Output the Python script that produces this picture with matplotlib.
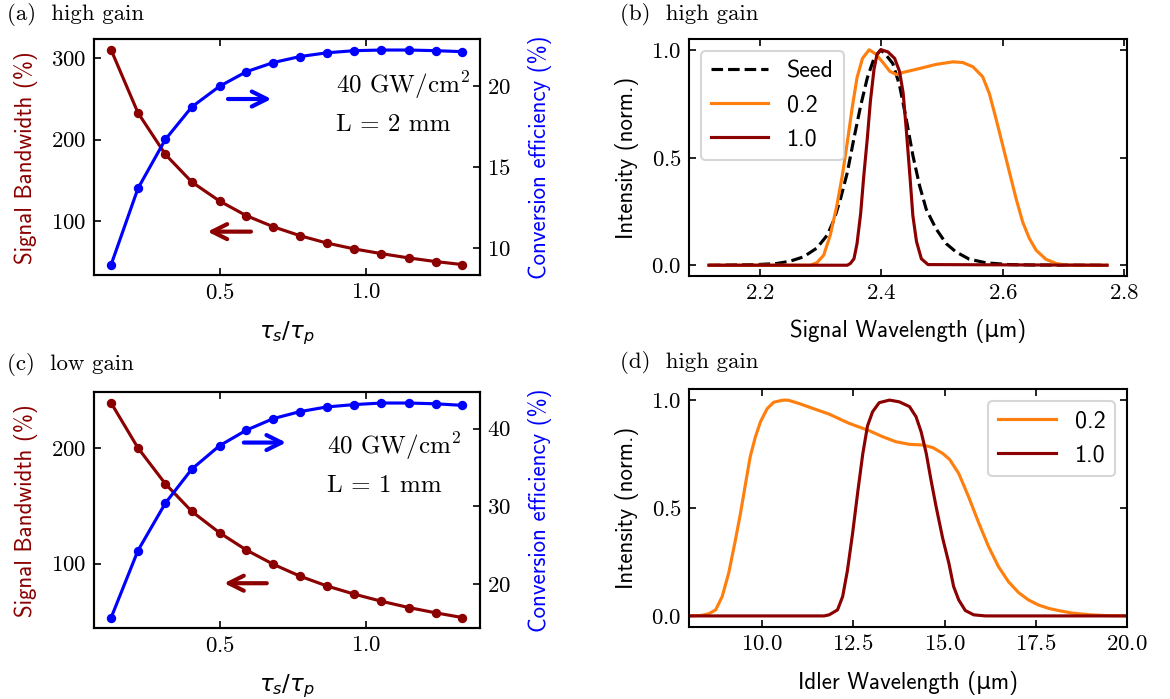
import matplotlib
matplotlib.use("Agg")
import matplotlib.pyplot as plt
from matplotlib.ticker import MultipleLocator

plt.rcParams['font.family'] = 'serif'
plt.rcParams['font.serif'] = ['cmr10']
plt.rcParams['mathtext.fontset'] = 'cm'
plt.rcParams['axes.formatter.use_mathtext'] = True
plt.rcParams['axes.unicode_minus'] = False
plt.rcParams['font.size'] = 11
plt.rcParams['axes.linewidth'] = 1.0

SANS = ['cmss10', 'DejaVu Sans']
RED = '#8b0000'
BLUE = '#0000ff'
ORANGE = '#ff7f0e'

# ---- data: panels (a) and (c), pulse duration ratio ----
ratio = [0.125, 0.217, 0.311, 0.402, 0.497, 0.589, 0.682, 0.774, 0.866, 0.960, 1.053, 1.146, 1.239, 1.331]
bw_high = [310.2, 233.1, 182.0, 148.0, 124.7, 106.7, 93.0, 82.0, 73.0, 65.8, 60.0, 54.8, 50.3, 46.6]
eff_high = [9.0, 13.7, 16.72, 18.73, 20.0, 20.9, 21.47, 21.84, 22.07, 22.2, 22.24, 22.24, 22.2, 22.14]
bw_low = [238.8, 200.0, 169.0, 145.1, 126.7, 111.8, 99.4, 89.1, 80.7, 73.6, 67.5, 62.1, 57.5, 53.4]
eff_low = [15.67, 24.3, 30.4, 34.8, 37.8, 39.8, 41.3, 42.2, 42.8, 43.1, 43.3, 43.3, 43.2, 43.0]

# ---- data: panel (b), signal spectra ----
wl_seed = [2.116, 2.195, 2.228, 2.250, 2.272, 2.294, 2.311, 2.322, 2.333, 2.344, 2.355, 2.366,
           2.377, 2.388, 2.399, 2.408, 2.419, 2.430, 2.441, 2.452, 2.463, 2.474, 2.490, 2.507,
           2.523, 2.545, 2.573, 2.611, 2.650, 2.772]
i_seed = [0, 0.003, 0.008, 0.019, 0.039, 0.08, 0.14, 0.21, 0.31, 0.43, 0.59, 0.74,
          0.87, 0.96, 1.0, 0.975, 0.936, 0.836, 0.68, 0.51, 0.37, 0.26, 0.17, 0.10,
          0.062, 0.028, 0.011, 0.003, 0.001, 0]
wl_sig02 = [2.116, 2.283, 2.294, 2.305, 2.316, 2.327, 2.336, 2.344, 2.352, 2.360, 2.369, 2.380,
            2.391, 2.403, 2.414, 2.425, 2.436, 2.463, 2.490, 2.518, 2.534, 2.551, 2.567, 2.578,
            2.589, 2.600, 2.611, 2.622, 2.633, 2.644, 2.655, 2.671, 2.688, 2.705, 2.772]
i_sig02 = [0, 0, 0.012, 0.046, 0.14, 0.28, 0.42, 0.57, 0.73, 0.87, 0.96, 1.0,
           0.98, 0.94, 0.90, 0.885, 0.895, 0.913, 0.932, 0.944, 0.941, 0.921, 0.875, 0.797,
           0.68, 0.557, 0.433, 0.31, 0.20, 0.124, 0.07, 0.028, 0.008, 0.0, 0]
wl_sig10 = [2.116, 2.344, 2.349, 2.355, 2.360, 2.366, 2.371, 2.377, 2.382, 2.388, 2.393, 2.400,
            2.411, 2.422, 2.430, 2.436, 2.441, 2.447, 2.452, 2.458, 2.466, 2.477, 2.772]
i_sig10 = [0, 0, 0.008, 0.03, 0.10, 0.24, 0.41, 0.59, 0.76, 0.91, 0.98, 1.0,
           0.99, 0.96, 0.90, 0.80, 0.635, 0.42, 0.23, 0.11, 0.03, 0.003, 0]

# ---- data: panel (d), idler spectra ----
wl_idl02 = [7.9, 8.2, 8.36, 8.54, 8.73, 8.91, 9.09, 9.27, 9.41, 9.55, 9.68, 9.82, 9.96, 10.14,
            10.32, 10.55, 10.64, 10.73, 11.0, 11.45, 11.84, 12.39, 12.94, 13.31, 13.67, 14.04,
            14.40, 14.68, 14.95, 15.14, 15.39, 15.66, 15.94, 16.21, 16.48, 16.75, 17.03, 17.30,
            17.57, 17.85, 18.12, 18.5, 19.0, 19.5, 20.2]
i_idl02 = [0, 0.001, 0.003, 0.01, 0.028, 0.09, 0.20, 0.35, 0.475, 0.614, 0.74, 0.83, 0.90, 0.96,
           0.99, 0.999, 1.0, 0.999, 0.985, 0.958, 0.935, 0.892, 0.858, 0.83, 0.807, 0.795,
           0.792, 0.78, 0.753, 0.725, 0.66, 0.552, 0.43, 0.32, 0.228, 0.159, 0.108, 0.074,
           0.051, 0.035, 0.025, 0.013, 0.005, 0.001, 0]
wl_idl10 = [7.9, 11.7, 11.84, 12.07, 12.21, 12.34, 12.48, 12.62, 12.76, 12.89, 13.03, 13.21,
            13.49, 13.76, 14.04, 14.22, 14.36, 14.50, 14.63, 14.77, 14.95, 15.12, 15.25, 15.39,
            15.57, 15.8, 16.12, 20.2]
i_idl10 = [0, 0, 0.005, 0.028, 0.09, 0.21, 0.38, 0.57, 0.75, 0.88, 0.946, 0.988,
           1.0, 0.992, 0.97, 0.923, 0.853, 0.753, 0.63, 0.506, 0.36, 0.244, 0.136, 0.074,
           0.025, 0.005, 0, 0]

W, H = 1170, 699
fig = plt.figure(figsize=(W / 150, H / 150), dpi=150)


def box(left, top, right, bottom):
    return [left / W, 1 - bottom / H, (right - left) / W, (bottom - top) / H]


def ratio_panel(rect, bw, eff, txt, arrows):
    ax = fig.add_axes(rect)
    ax2 = ax.twinx()
    ax.plot(ratio, bw, '-o', color=RED, lw=1.5, ms=3.5)
    ax2.plot(ratio, eff, '-o', color=BLUE, lw=1.5, ms=3.5)
    ax.set_ylabel('Signal Bandwidth (%)', color=RED, family=SANS, labelpad=6)
    ax2.set_ylabel('Conversion efficiency (%)', color=BLUE, family=SANS, labelpad=8)
    ax.set_xlabel(r'$\tau_s/\tau_p$', math_fontfamily='dejavusans', labelpad=8)
    ax.xaxis.set_major_locator(MultipleLocator(0.5))
    ax.yaxis.set_major_locator(MultipleLocator(100))
    ax.tick_params(direction='in', top=True)
    ax2.tick_params(direction='in')
    (tx, ty1, ty2) = txt[0]
    ax.text(tx, ty1, r'40 GW/$\mathrm{cm}^2$', transform=ax.transAxes, va='center', fontsize=12)
    ax.text(tx, ty2, txt[1], transform=ax.transAxes, va='center', fontsize=12)
    for (x0, x1, y, c) in arrows:
        ax.annotate('', xy=(x1, y), xytext=(x0, y), xycoords='axes fraction',
                    arrowprops=dict(arrowstyle='->', color=c, lw=2, mutation_scale=18))
    return ax


ratio_panel(box(93.6, 39.3, 480, 275.3), bw_high, eff_high,
            [(0.628, 0.807, 0.637), 'L = 2 mm'],
            [(0.337, 0.471, 0.747, BLUE), (0.418, 0.284, 0.185, RED)])
ratio_panel(box(93.6, 392.3, 480, 628.3), bw_low, eff_low,
            [(0.605, 0.77, 0.603), 'L = 1 mm'],
            [(0.378, 0.509, 0.787, BLUE), (0.459, 0.327, 0.191, RED)])

# panel (b)
axb = fig.add_axes(box(689, 39, 1127, 276))
axb.plot(wl_seed, i_seed, '--', color='black', lw=1.5, label='Seed')
axb.plot(wl_sig02, i_sig02, color=ORANGE, lw=1.5, label='0.2')
axb.plot(wl_sig10, i_sig10, color=RED, lw=1.5, label='1.0')
axb.set_xlabel('Signal Wavelength (\u03bcm)', family=SANS, labelpad=8)
axb.set_ylabel('Intensity (norm.)', family=SANS, labelpad=6)
axb.xaxis.set_major_locator(MultipleLocator(0.2))
axb.yaxis.set_major_locator(MultipleLocator(0.5))
axb.tick_params(direction='in', top=True, right=True)
axb.legend(loc='upper left', prop={'family': SANS, 'size': 11.5}, handlelength=2.4)

# panel (d)
axd = fig.add_axes(box(689, 389.3, 1127, 626.7))
axd.plot(wl_idl02, i_idl02, color=ORANGE, lw=1.5, label='0.2')
axd.plot(wl_idl10, i_idl10, color=RED, lw=1.5, label='1.0')
axd.set_xlim(8, 20)
axd.set_xlabel('Idler Wavelength (\u03bcm)', family=SANS, labelpad=8)
axd.set_ylabel('Intensity (norm.)', family=SANS, labelpad=6)
axd.xaxis.set_major_locator(MultipleLocator(2.5))
axd.yaxis.set_major_locator(MultipleLocator(0.5))
axd.tick_params(direction='in', top=True, right=True)
axd.legend(loc='upper right', prop={'family': SANS, 'size': 11.5}, handlelength=2.4)

fig.text(7 / W, 1 - 15 / H, '(a)  high gain', va='center')
fig.text(619.5 / W, 1 - 15 / H, '(b)  high gain', va='center')
fig.text(7 / W, 1 - 365 / H, '(c)  low gain', va='center')
fig.text(619.5 / W, 1 - 363 / H, '(d)  high gain', va='center')

fig.savefig('out.png', dpi=150)
